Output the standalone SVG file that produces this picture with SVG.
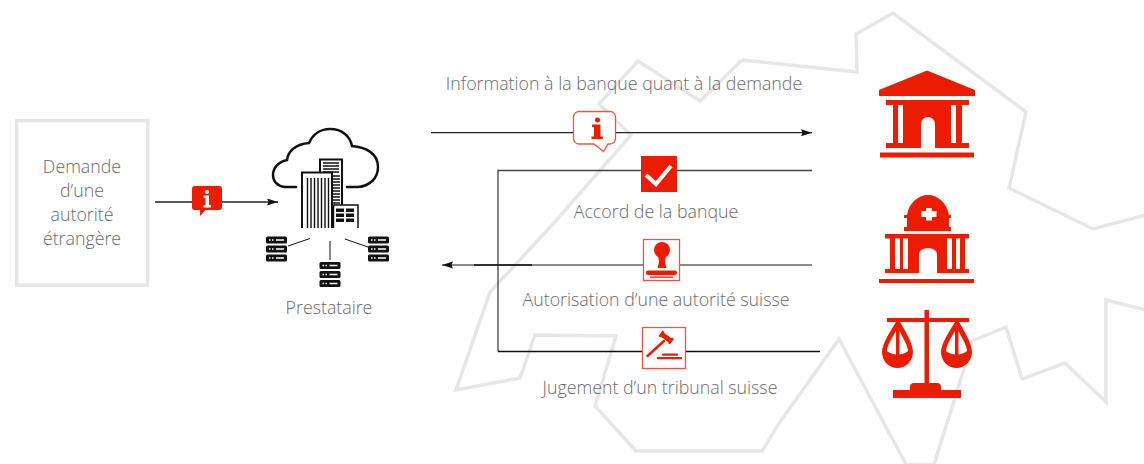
<svg xmlns="http://www.w3.org/2000/svg" xmlns:xlink="http://www.w3.org/1999/xlink" width="1144" height="464" viewBox="0 0 1144 464">
<style>
text{font-family:"Open Sans","Noto Sans","Liberation Sans",sans-serif;font-weight:300;font-size:17.800px;fill:#6a6a6a;text-anchor:middle}
.map{fill:none;stroke:#e6e6e6;stroke-width:3.5;stroke-linejoin:miter}
.conn{fill:none;stroke:#444;stroke-width:1.3}
.red{fill:#ec1c00}
.wht{fill:#fff}
.blk{fill:none;stroke:#111;stroke-width:2}
.thin{fill:none;stroke:#111;stroke-width:1}
.frame{fill:#fff;stroke:#f0533f;stroke-width:1.3}
</style>
<defs>
<marker id="arrow" markerUnits="userSpaceOnUse" markerWidth="12" markerHeight="8" refX="11" refY="3.5" orient="auto-start-reverse"><path d="M0 0L11 3.5L0 7L1.5 3.5Z" fill="#111"/></marker>
<symbol id="server" width="21" height="25" viewBox="0 0 21 25" overflow="visible">
<rect x="0" y="0" width="21" height="7" rx="1.5" fill="#111"/><rect x="0" y="9" width="21" height="7" rx="1.5" fill="#111"/><rect x="0" y="18" width="21" height="7" rx="1.5" fill="#111"/>
<path d="M3 3.5h1.5M6 3.5h1.5M10 3.500h8M3 12.5h1.5M6 12.5h1.5M10 12.500h8M3 21.5h1.5M6 21.5h1.5M10 21.500h8" stroke="#fff" stroke-width="1.400" fill="none"/>
</symbol>
</defs>
<g id="map">
<path class="map" d="M742 60L780 64L857 72L856 34L893 13L1026 112L1009 188L1093 229L1146 215"/>
<path class="map" d="M742 60L700 101L638 61L599 104L631 135L553 224L490 292L456 390L520 378L535 335L616 336L595 406L636 451L762 451L780 422L839 339L906 464.500L934 464.500L965 366L972 341L1006 327L1022 379L1065 363L1106 402L1106 300L1146 310"/>
</g>
<g id="connectors">
<path class="conn" style="stroke:#222" d="M155 202H278" marker-end="url(#arrow)"/>
<path class="conn" style="stroke:#222" d="M431 132.700H812" marker-end="url(#arrow)"/>
<path class="conn" d="M812 170.500H498V351.500"/>
<path class="conn" style="stroke:#666" d="M812 265H442" marker-end="url(#arrow)"/>
<path class="conn" style="stroke:#111" d="M474 265H532"/>
<path class="conn" style="stroke:#111" d="M498 351.500H820"/>
</g>
<g id="demande">
<rect x="16.700" y="120.700" width="131" height="164.500" fill="#fff" fill-opacity="0" stroke="#e6e6e6" stroke-width="3.500"/>
<text x="82" y="173">Demande</text>
<text x="82" y="197">d’une</text>
<text x="82" y="221">autorité</text>
<text x="82" y="245">étrangère</text>
</g>
<g id="badge-info-filled">
<path class="red" d="M195 186H219a3 3 0 0 1 3 3V207a3 3 0 0 1-3 3H205.500L200 216V210H195a3 3 0 0 1-3-3V189a3 3 0 0 1 3-3Z"/>
<circle class="wht" cx="207" cy="192" r="2"/>
<path class="wht" d="M203.500 195.500H209V205H211V207.500H203.500V205H205.500V198H203.500Z"/>
</g>
<g id="prestataire">
<path fill="none" stroke="#111" stroke-width="2.500" stroke-linecap="round" d="M296 187H285C277 186 273 181 273 175C273 168 278 162 287 160C288 151 296 144 309 143C313 134 321 129 330 129C342 129 350 136 352 146C365 147 378 153 378 167C378 178 370 186 358 187H347"/>
<path class="blk" style="fill:#fff" d="M320 172V159.500H342V205"/>
<path class="thin" style="stroke-width:1.300" d="M323 163H339M323 166H339M323 169H339M323 172H339"/>
<path class="thin" style="stroke-width:1.300" d="M333 176H340M333 179H340M333 182H340M333 185H340M333 188H340M333 191H340M333 194H340M333 197H340M333 200H340M333 203H340"/>
<path class="blk" style="fill:#fff" d="M302 228V172.500H332V228"/>
<path class="thin" style="stroke-width:1.400" d="M307.500 178V228M311 178V228M314.500 178V228M318 178V228M321.500 178V228M325 178V228M328.500 178V228"/>
<path class="blk" style="stroke-width:1.500;fill:#fff" d="M333.500 228V205H358V228"/>
<path d="M336 208.500H344V212H336ZM346 208.500H354V212H346ZM336 213.500H344V217H336ZM346 213.500H354V217H346ZM336 218.500H344V222H336ZM346 218.500H354V222H346Z" fill="#111"/>
<use href="#server" x="266" y="236.500"/>
<use href="#server" x="319.500" y="262"/>
<use href="#server" x="368" y="236.500"/>
<path class="thin" d="M288 246L310 238.500M330 241V260M345 239L368 247"/>
<text x="329" y="313.500">Prestataire</text>
</g>
<g id="info-banque">
<text x="624" y="90">Information à la banque quant à la demande</text>
<path class="frame" d="M579 111.500H610a5.500 5.500 0 0 1 5.500 5.500V138.500a5.500 5.500 0 0 1-5.500 5.500H608L603.500 151.500L594 144H579a5.500 5.500 0 0 1-5.500-5.500V117a5.500 5.500 0 0 1 5.500-5.500Z"/>
<circle class="red" cx="597.500" cy="120" r="2.500"/>
<path class="red" d="M592 124.500H600.500V136.500H603V139H591.500V136.500H594V127H592Z"/>
</g>
<g id="accord">
<rect class="red" x="641" y="156" width="36" height="36"/>
<path d="M646 175L656 184L671 166" fill="none" stroke="#fff" stroke-width="4"/>
<text x="656" y="217.500">Accord de la banque</text>
</g>
<g id="autorisation">
<rect class="frame" x="643.500" y="239.500" width="36" height="41"/>
<circle class="red" cx="662" cy="250" r="8"/>
<path class="red" d="M658 255H666L665 262L666.500 268H657.500L659 262Z"/>
<rect class="red" x="646" y="270.500" width="31" height="4.500" rx="2"/>
<rect class="red" x="650" y="276.500" width="23" height="1.300"/>
<text x="656" y="306">Autorisation d’une autorité suisse</text>
</g>
<g id="jugement">
<rect class="frame" x="642.500" y="327.500" width="43" height="41"/>
<path d="M647.500 356L664 341" fill="none" stroke="#ec1c00" stroke-width="2.500" stroke-linecap="round"/>
<path d="M661.500 334L671 341" fill="none" stroke="#ec1c00" stroke-width="5"/>
<path d="M659.400 336.800L663.600 331.200M668.900 343.800L673.100 338.200" fill="none" stroke="#ec1c00" stroke-width="2.400"/>
<rect class="red" x="662" y="353.500" width="16" height="2.200" rx="1"/>
<rect class="red" x="657" y="357" width="25" height="2.200"/>
<text x="660" y="393.500">Jugement d’un tribunal suisse</text>
</g>
<g id="banque">
<path class="red" d="M927 70.500L975 90V96H879V90Z"/>
<path class="red" fill-rule="evenodd" d="M886 100H969V105H962V143H969V148H935V124A7 7 0 0 0 921 124V148H886V143H893V105H886ZM898 105V143H903V105ZM951 105V143H956V105Z"/>
<rect class="red" x="880" y="152.500" width="94" height="5"/>
</g>
<g id="autorite-suisse">
<path class="red" d="M907 215C909 203 918 195 928 195C938 195 947 203 949 215H951V218H949V227H951V231H904V227H907V218H904V215Z"/>
<path class="wht" d="M926 208H932V211H936.500V217H932V220.500H926V217H921.500V211H926Z"/>
<path class="red" fill-rule="evenodd" d="M885 234H969V238.500H965V269H969V273H937V254A9 6 0 0 0 919 254V273H885V269H890V238.500H885ZM895 238.500V269H900V238.500ZM903 238.500V269H908V238.500ZM947 238.500V269H952V238.500ZM956 238.500V269H960V238.500Z"/>
<rect class="red" x="879" y="279" width="95" height="4"/>
</g>
<g id="tribunal">
<rect class="red" x="924.500" y="310" width="4.500" height="75"/>
<rect class="red" x="887" y="318" width="82" height="4"/>
<path class="red" d="M910 390V387A4 4 0 0 1 914 383H937A4 4 0 0 1 941 387V390H961V398H893V390Z"/>
<path id="pan" class="red" fill-rule="evenodd" d="M896 322H900C905 330 913 344 913 352C913 361 906 368 897.500 368C889 368 882 361 882 352C882 344 891 330 896 322ZM896 331C892 338 887 346 887 351C889 353 892 354 896 354.500ZM899.500 331V354.500C903 354 906 353 908 351C908 346 903 338 899.500 331Z"/>
<use href="#pan" x="59"/>
</g>
</svg>
